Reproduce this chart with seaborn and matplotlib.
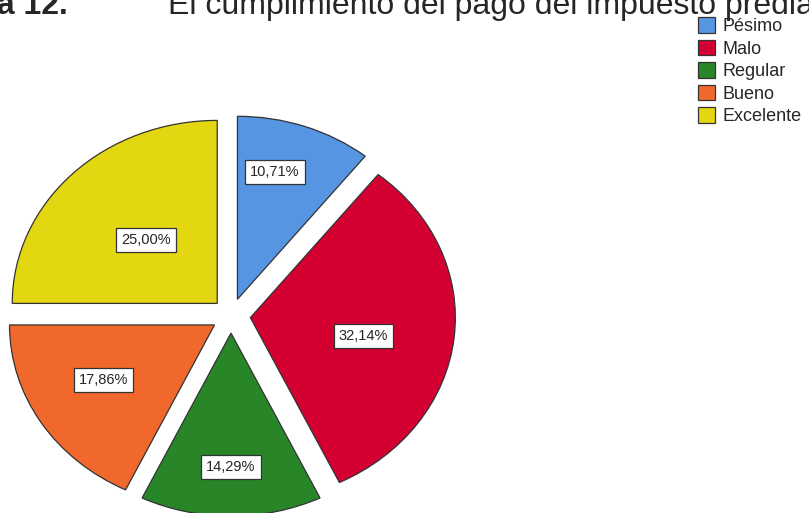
import numpy as np
import matplotlib
matplotlib.use("Agg")
import matplotlib.pyplot as plt
import seaborn as sns

# --- datos ---
categorias = ["Pésimo", "Malo", "Regular", "Bueno", "Excelente"]
porcentajes = [10.71, 32.14, 14.29, 17.86, 25.00]
etiquetas = ["10,71%", "32,14%", "14,29%", "17,86%", "25,00%"]
colores = ["#5595E2", "#D50032", "#288629", "#F0682C", "#E2D711"]

titulo_num = "Figura 12."
titulo = "El cumplimiento del pago del impuesto predial"

# posicion de cada etiqueta: distancia radial y desvio de angulo (estilo)
dist_etiqueta = [0.72, 0.56, 0.73, 0.62, 0.49]
desvio_angulo = [4.5, -3.8, 0.0, -3.0, 0.0]

sns.set_style("white")
plt.rcParams['font.family'] = ['Liberation Sans', 'DejaVu Sans']
paleta = sns.color_palette(colores)

W, H = 809, 513
fig = plt.figure(figsize=(W / 100, H / 100), dpi=100)

# ejes colocados en pixeles: radio horizontal 205 px, vertical 183 px
cx, cy = 231, H - 315.7
rx, ry = 205, 183
ax = fig.add_axes([(cx - 1.1 * rx) / W, (cy - 1.1 * ry) / H, 2.2 * rx / W, 2.2 * ry / H])

wedges, _ = ax.pie(
    porcentajes,
    colors=paleta,
    startangle=90,
    counterclock=False,
    explode=[0.095] * len(porcentajes),
    wedgeprops=dict(edgecolor="#333333", linewidth=0.9),
)
ax.set_aspect("auto")
ax.set_xlim(-1.1, 1.1)
ax.set_ylim(-1.1, 1.1)
ax.axis("off")

for w, lab, d, da in zip(wedges, etiquetas, dist_etiqueta, desvio_angulo):
    ang = np.deg2rad((w.theta1 + w.theta2) / 2 + da)
    x0, y0 = w.center
    ax.text(x0 + d * np.cos(ang), y0 + d * np.sin(ang), lab,
            ha="center", va="center", fontsize=10.5,
            bbox=dict(boxstyle="square,pad=0.35", fc="white", ec="#333333", lw=0.9))

# titulo (recortado en el borde superior, como en la imagen)
fig.text(68 / W, 1 - 14 / H, titulo_num, ha="right", va="baseline",
         fontsize=23, fontweight="bold")
fig.text(168 / W, 1 - 14 / H, titulo, ha="left", va="baseline", fontsize=23)

# leyenda
fig.legend(wedges, categorias, loc="upper left",
           bbox_to_anchor=(698 / W, 1 - 17 / H),
           frameon=False, fontsize=13, borderpad=0, borderaxespad=0,
           handlelength=0.95, handleheight=0.95, handletextpad=0.4,
           labelspacing=0.25)

plt.savefig("out.png", dpi=100)
